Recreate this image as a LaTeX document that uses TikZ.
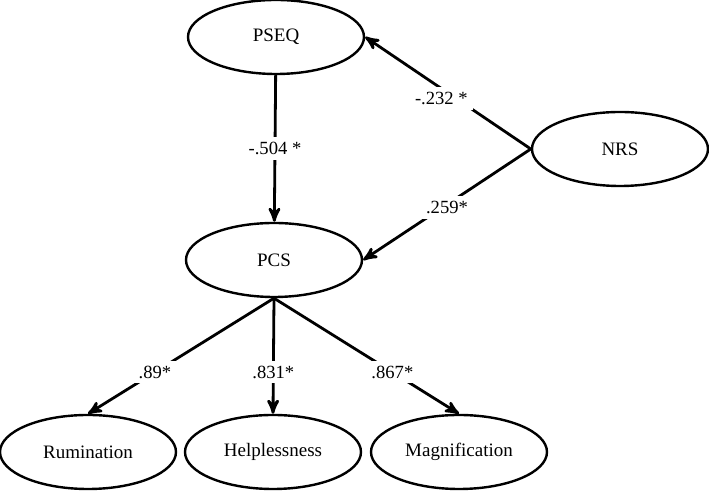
\documentclass[tikz,border=0pt]{standalone}
\usepackage{fontspec}
\setmainfont{Liberation Serif}
\usetikzlibrary{shapes.geometric, positioning, arrows}
\tikzset{x=0.5pt, y=-0.5pt, % one unit is one pixel of the reference
latent/.style={ % Sets the properties for each factor
ellipse, draw, line width=1.2pt,
minimum width=88pt, minimum height=37pt,
inner sep=0pt, font=\fontsize{9.5}{11}\selectfont},
coef/.style={ % Labels sitting on the paths
fill=white, inner sep=2.5pt, font=\fontsize{9.3}{11}\selectfont},
every edge/.style={ % Sets the properties for each path
draw,->,>=stealth', line width=1.4pt}}
\begin{document}
\begin{tikzpicture}
    \useasboundingbox (0,0) rectangle (709,491);
    
    \node[latent] (pseq) at (276,37) {PSEQ};
    \node[latent] (nrs) at (620,149) {NRS};
    \node[latent] (pcs) at (274,260) {PCS};
    
    \node[latent] (rum) at (88,452) {Rumination};
    \node[latent] (help) at (273,452) {Helplessness};
    \node[latent] (mag) at (459,452) {Magnification};
    
    \draw (pseq) edge node[coef] {-.504 *} (pcs);
    \draw (nrs.west) edge node[coef, pos=0.54, yshift=-5pt] {-.232 *} (pseq.east);
    \draw (nrs.west) edge node[coef, pos=0.5, yshift=-1.5pt] {.259*} (pcs.east);
    
    \draw (pcs.south) edge node[coef, pos=0.64] {.89*} (rum.north);
    \draw (pcs.south) edge node[coef, pos=0.64] {.831*} (help.north);
    \draw (pcs.south) edge node[coef, pos=0.64] {.867*} (mag.north);
    
\end{tikzpicture}
\end{document}
